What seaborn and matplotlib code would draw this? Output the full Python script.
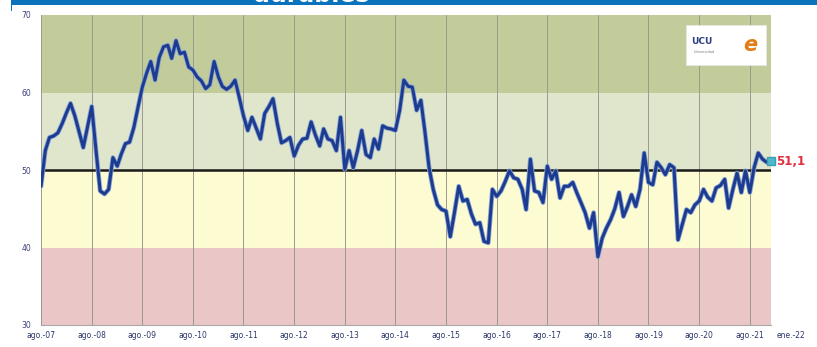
import numpy as np
import pandas as pd
import matplotlib
matplotlib.use("Agg")
import matplotlib.pyplot as plt
import matplotlib.patheffects as pe
import matplotlib.transforms as mtransforms
from matplotlib.patches import Rectangle
import seaborn as sns

# Monthly index values, Aug-2007 .. Jan-2022
index_values = [
    47.9, 52.5, 54.2, 54.4, 54.8, 56.0, 57.4, 58.6, 57.0, 55.0, 52.9, 55.5,
    58.2, 52.5, 47.3, 46.9, 47.5, 51.6, 50.5, 52.0, 53.4, 53.6, 55.5, 58.1,
    60.7, 62.5, 64.0, 61.6, 64.5, 65.9, 66.1, 64.4, 66.7, 65.0, 65.2, 63.3,
    62.9, 62.0, 61.5, 60.5, 61.0, 64.0, 62.0, 60.8, 60.4, 60.8, 61.6, 59.4,
    57.0, 55.1, 56.8, 55.4, 54.0, 57.3, 58.2, 59.2, 56.0, 53.5, 53.8, 54.2,
    51.8, 53.2, 54.0, 54.1, 56.2, 54.5, 53.1, 55.3, 54.0, 53.8, 52.5, 56.8,
    50.1, 52.5, 50.3, 52.5, 55.1, 52.0, 51.6, 54.0, 52.7, 55.7, 55.4, 55.3,
    55.1, 57.7, 61.6, 60.8, 60.7, 57.7, 59.0, 55.1, 50.3, 47.5, 45.5, 44.9,
    44.7, 41.4, 44.5, 47.9, 46.0, 46.2, 44.3, 43.0, 43.2, 40.8, 40.6, 47.5,
    46.6, 47.3, 48.5, 49.9, 49.0, 48.8, 47.5, 44.9, 51.4, 47.3, 47.1, 45.8,
    50.5, 48.8, 49.9, 46.4, 47.9, 47.9, 48.4, 47.1, 45.8, 44.5, 42.5, 44.5,
    38.8, 41.2, 42.5, 43.6, 45.0, 47.1, 44.0, 45.2, 46.8, 45.3, 47.5, 52.2,
    48.4, 48.1, 51.0, 50.3, 49.4, 50.7, 50.3, 41.0, 43.0, 44.9, 44.5, 45.5,
    46.0, 47.5, 46.5, 46.0, 47.7, 48.0, 48.8, 45.1, 47.5, 49.6, 47.1, 49.9,
    47.1, 50.3, 52.2, 51.4, 51.0, 51.1,
]
months = pd.date_range("2007-08-01", periods=len(index_values), freq="MS")
df = pd.DataFrame({"mes": months, "indice": index_values})

tick_dates = list(pd.date_range("2007-08-01", "2021-08-01", freq="12MS")) + [pd.Timestamp("2022-01-01")]
tick_labels = [f"ago.-{d.year % 100:02d}" for d in tick_dates[:-1]] + ["ene.-22"]
y_ticks = [30, 40, 50, 60, 70]

# Zones of the index scale
zones = [(60, 70, "#c2cb9a"), (50, 60, "#dfe6cb"), (40, 50, "#fdfbd2"), (30, 40, "#ebc6c7")]

sns.set_theme(style="white")
plt.rcParams["font.family"] = ["DejaVu Sans"]

fig = plt.figure(figsize=(8.17, 3.47), dpi=100)
ax = fig.add_axes([41 / 817, 22 / 347, (771 - 41) / 817, (332 - 22) / 347])

for lo, hi, col in zones:
    ax.axhspan(lo, hi, color=col, zorder=0, lw=0)

for d in tick_dates[:-1]:
    ax.axvline(d, color="#9a9a8a", lw=0.7, zorder=1)

ax.axhline(50, color="#1a1a1a", lw=1.8, zorder=2)

sns.lineplot(data=df, x="mes", y="indice", ax=ax, color="#1d3c8f", lw=2.2, zorder=3,
             path_effects=[pe.Stroke(linewidth=3.4, foreground="#8aa5d6"), pe.Normal()])

last = df.iloc[-1]
ax.plot([last["mes"]], [last["indice"]], marker="s", ms=6, color="#4fb9cc",
        mec="#3a9fb5", zorder=4, clip_on=False)
ax.annotate(f"{last['indice']:.1f}".replace(".", ","), (last["mes"], last["indice"]),
            xytext=(14, 0), textcoords="offset points", color="#e0303e",
            fontsize=8.5, fontweight="bold", va="center", ha="center",
            annotation_clip=False)

ax.set_xlim(pd.Timestamp("2007-08-01"), pd.Timestamp("2022-01-01"))
ax.set_ylim(30, 70)
ax.set_xticks(tick_dates)
ax.set_xticklabels(tick_labels, fontsize=5.5, color="#2b3768")
ax.set_yticks(y_ticks)
ax.set_yticklabels([str(v) for v in y_ticks], fontsize=5.5, color="#3b3f78")
ax.tick_params(axis="both", length=0)
ax.tick_params(axis="x", pad=4)
ax.tick_params(axis="y", pad=7)
ax.set_xlabel("")
ax.set_ylabel("")
# push the final label to the right of the last month
lab = ax.get_xticklabels()[-1]
lab.set_transform(lab.get_transform() + mtransforms.ScaledTranslation(20 / 100, 0, fig.dpi_scale_trans))

for side in ["top", "right", "left"]:
    ax.spines[side].set_visible(False)
ax.spines["bottom"].set_color("#a8a8a8")
ax.spines["bottom"].set_linewidth(0.8)

# Header band with the title cut at the top edge
fig.add_artist(Rectangle((11 / 817, 1 - 4.5 / 347), 1, 4.5 / 347, transform=fig.transFigure,
                         color="#0a73bb", lw=0))
fig.add_artist(Rectangle((10.5 / 817, 1 - 11 / 347), 1.2 / 817, 11 / 347, transform=fig.transFigure,
                         color="#0a73bb", lw=0))
fig.text(253 / 817, 1 - 2 / 347, "durables", color="white", fontsize=17, fontweight="bold",
         va="baseline", ha="left")

# Logo box
fig.add_artist(Rectangle((686 / 817, 1 - 65 / 347), 80 / 817, 40 / 347, transform=fig.transFigure,
                         facecolor="white", edgecolor="#e8e8e8", lw=0.5, zorder=5))
fig.text(702 / 817, 1 - 41 / 347, "UCU", color="#2c3f7f", fontsize=6.5, fontweight="bold",
         va="center", ha="center", zorder=6)
fig.text(704 / 817, 1 - 52 / 347, "Universidad", color="#777777", fontsize=2.5,
         va="center", ha="center", zorder=6)
fig.text(750 / 817, 1 - 45 / 347, "e", color="#e37c16", fontsize=15, fontweight="bold",
         style="italic", va="center", ha="center", zorder=6)

fig.savefig("out.png", dpi=100)
